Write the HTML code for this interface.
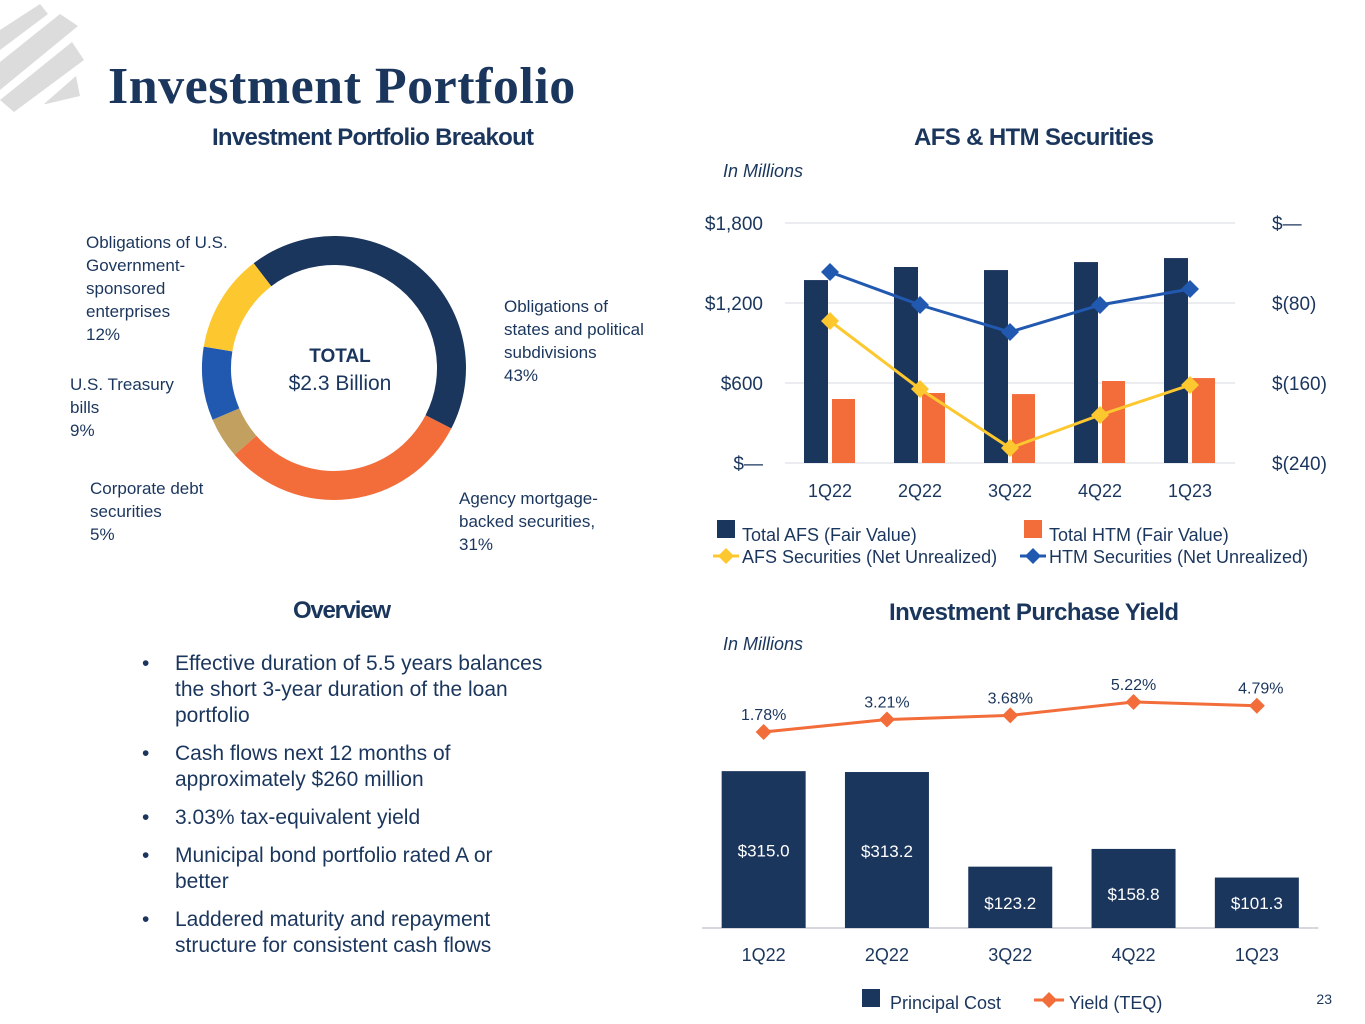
<!DOCTYPE html>
<html><head><meta charset="utf-8"><style>
body{margin:0;width:1365px;height:1024px;background:#fff;overflow:hidden;font-family:"Liberation Sans",sans-serif;}
svg{display:block}
text{fill:#1b365d}
</style></head><body>
<svg id="s" width="1365" height="1024" viewBox="0 0 1365 1024">
<g fill="#dcdcdc">
<polygon points="0,30 40,4 48,14 0,50"/>
<polygon points="0,62 60,14 78,26 0,90"/>
<polygon points="0,100 72,42 84,60 14,112"/>
<polygon points="44,104 76,76 80,96 46,104"/>
</g>
<text x="108" y="103" font-family="Liberation Serif,serif" font-weight="bold" font-size="52" letter-spacing="0.5">Investment Portfolio</text>
<g font-family="Liberation Sans Narrow,Liberation Sans,sans-serif" font-weight="bold" font-size="24" text-anchor="middle">
<text x="373" y="145" textLength="322">Investment Portfolio Breakout</text>
<text x="1034" y="145" textLength="240">AFS &amp; HTM Securities</text>
<text x="342" y="618" textLength="98">Overview</text>
<text x="1034" y="620" textLength="290">Investment Purchase Yield</text>
</g>
<g id="donut"></g>
<text x="340" y="362" text-anchor="middle" font-weight="bold" font-size="19">TOTAL</text>
<text x="340" y="390" text-anchor="middle" font-size="21">$2.3 Billion</text>
<g font-size="17">
<text><tspan x="86" y="248">Obligations of U.S.</tspan><tspan x="86" y="271">Government-</tspan><tspan x="86" y="294">sponsored</tspan><tspan x="86" y="317">enterprises</tspan><tspan x="86" y="340">12%</tspan></text>
<text><tspan x="504" y="312">Obligations of</tspan><tspan x="504" y="335">states and political</tspan><tspan x="504" y="358">subdivisions</tspan><tspan x="504" y="381">43%</tspan></text>
<text><tspan x="70" y="390">U.S. Treasury</tspan><tspan x="70" y="413">bills</tspan><tspan x="70" y="436">9%</tspan></text>
<text><tspan x="90" y="494">Corporate debt</tspan><tspan x="90" y="517">securities</tspan><tspan x="90" y="540">5%</tspan></text>
<text><tspan x="459" y="504">Agency mortgage-</tspan><tspan x="459" y="527">backed securities,</tspan><tspan x="459" y="550">31%</tspan></text>
</g>
<g font-size="21">
<text x="142" y="670">•</text><text x="175" y="670">Effective duration of 5.5 years balances</text>
<text x="175" y="696">the short 3-year duration of the loan</text><text x="175" y="722">portfolio</text>
<text x="142" y="760">•</text><text x="175" y="760">Cash flows next 12 months of</text><text x="175" y="786">approximately $260 million</text>
<text x="142" y="824">•</text><text x="175" y="824">3.03% tax-equivalent yield</text>
<text x="142" y="862">•</text><text x="175" y="862">Municipal bond portfolio rated A or</text><text x="175" y="888">better</text>
<text x="142" y="926">•</text><text x="175" y="926">Laddered maturity and repayment</text><text x="175" y="952">structure for consistent cash flows</text>
</g>
<text x="723" y="177" font-size="18" font-style="italic">In Millions</text>
<text x="723" y="650" font-size="18" font-style="italic">In Millions</text>
<g id="afs"></g>
<g id="yc"></g>
<g font-size="18">
<rect x="717" y="520" width="18" height="18" fill="#1b365d"/><text x="742" y="541">Total AFS (Fair Value)</text>
<rect x="1024" y="520" width="18" height="18" fill="#f26d3a"/><text x="1049" y="541">Total HTM (Fair Value)</text>
<line x1="713" y1="556" x2="739" y2="556" stroke="#fdc82f" stroke-width="3"/><polygon points="726,548 734,556 726,564 718,556" fill="#fdc82f"/><text x="742" y="563">AFS Securities (Net Unrealized)</text>
<line x1="1020" y1="556" x2="1046" y2="556" stroke="#2158b0" stroke-width="3"/><polygon points="1033,548 1041,556 1033,564 1025,556" fill="#2158b0"/><text x="1049" y="563">HTM Securities (Net Unrealized)</text>
</g>
<g font-size="18">
<rect x="862" y="989" width="18" height="18" fill="#1b365d"/><text x="890" y="1009">Principal Cost</text>
<line x1="1034" y1="1000" x2="1064" y2="1000" stroke="#f26d3a" stroke-width="3"/><polygon points="1049,992 1057,1000 1049,1008 1041,1000" fill="#f26d3a"/><text x="1069" y="1009">Yield (TEQ)</text>
</g>
<text x="1332" y="1004" font-size="14" text-anchor="end">23</text>
</svg>
<script>
const NS='http://www.w3.org/2000/svg';
function mk(p,t,a,txt){const e=document.createElementNS(NS,t);for(const k in a)e.setAttribute(k,a[k]);if(txt!==undefined)e.textContent=txt;p.appendChild(e);return e;}
// Donut data
const sliceNames=['states','agency','corporate','treasury','gse'];
const slicePct=[43,31,5,9,12];
const sliceColors=['#1b365d','#f26d3a','#c2a060','#2158b0','#fdc82f'];
// AFS/HTM data
const quarters=['1Q22','2Q22','3Q22','4Q22','1Q23'];
const afsFair=[1372,1470,1447,1507,1537];
const htmFair=[480,525,517,615,637];
const afsUnreal=[-98,-166,-225,-192,-162];
const htmUnreal=[-49,-82,-109,-82,-66];
const leftTicks=['$—','$600','$1,200','$1,800'];
const leftTickVals=[0,600,1200,1800];
const rightTicks=['$(240)','$(160)','$(80)','$—'];
const rightTickVals=[-240,-160,-80,0];
// Yield data
const principal=[315.0,313.2,123.2,158.8,101.3];
const principalLabels=['$315.0','$313.2','$123.2','$158.8','$101.3'];
const yieldPct=[1.78,3.21,3.68,5.22,4.79];
const yieldLabels=['1.78%','3.21%','3.68%','5.22%','4.79%'];

(function(){
 const g=document.getElementById('donut');const cx=334,cy=368,R=132,r=103;
 const total=slicePct.reduce((a,b)=>a+b,0);let a0=-37.5*Math.PI/180;
 slicePct.forEach((v,i)=>{const a1=a0+v/total*2*Math.PI;
  const p=(ang,rad)=>[cx+rad*Math.sin(ang),cy-rad*Math.cos(ang)];
  const [x1,y1]=p(a0,R),[x2,y2]=p(a1,R),[x3,y3]=p(a1,r),[x4,y4]=p(a0,r);const lg=(a1-a0)>Math.PI?1:0;
  const e=mk(g,'path',{d:`M${x1},${y1}A${R},${R} 0 ${lg} 1 ${x2},${y2}L${x3},${y3}A${r},${r} 0 ${lg} 0 ${x4},${y4}Z`,fill:sliceColors[i]});
  
  
  a0=a1;});
})();
(function(){
 const g=document.getElementById('afs');const x0=785,x1=1235,yB=463,yT=223;
 const yL=v=>yB-(v/1800)*(yB-yT);const yR=v=>yT+(v/-240)*(yB-yT);
 const step=(x1-x0)/quarters.length;const cxq=i=>x0+step*(i+0.5);
 leftTickVals.forEach((v,i)=>{const l=mk(g,'line',{x1:x0,x2:x1,y1:yL(v),y2:yL(v),stroke:'#e3e6ea','stroke-width':1.5});
  
  
  const t=mk(g,'text',{x:763,y:yL(v)+7,'text-anchor':'end','font-size':19},leftTicks[i]);
  
  });
 rightTickVals.forEach((v,i)=>{const t=mk(g,'text',{x:1272,y:yR(v)+7,'font-size':19},rightTicks[i]);
  
  });
 quarters.forEach((q,i)=>{const c=cxq(i);
  const b1=mk(g,'rect',{x:c-26,y:yL(afsFair[i]),width:24,height:yB-yL(afsFair[i]),fill:'#1b365d'});
  
  
  const b2=mk(g,'rect',{x:c+2,y:yL(htmFair[i]),width:23,height:yB-yL(htmFair[i]),fill:'#f26d3a'});
  
  
  const t=mk(g,'text',{x:c,y:497,'text-anchor':'middle','font-size':18},q);
  
  });
 [[htmUnreal,'#2158b0','htm'],[afsUnreal,'#fdc82f','afs']].forEach(([arr,col,nm])=>{
  const pl=mk(g,'polyline',{points:arr.map((v,i)=>cxq(i)+','+yR(v)).join(' '),fill:'none',stroke:col,'stroke-width':3});
  
  
  arr.forEach((v,i)=>{const x=cxq(i),y=yR(v);const d=mk(g,'polygon',{points:`${x},${y-9} ${x+9},${y} ${x},${y+9} ${x-9},${y}`,fill:col});
   
   });});
})();
(function(){
 const g=document.getElementById('yc');const x0=702,step=123.3,yB=928;
 const cxq=i=>x0+step*(i+0.5);const yP=v=>yB-v*0.498;const yY=v=>747.5-v*8.72;
 const ax=mk(g,'line',{x1:x0,x2:x0+step*5,y1:yB,y2:yB,stroke:'#c8ccd2','stroke-width':1.5});
 
 
 principal.forEach((v,i)=>{const c=cxq(i);
  const b=mk(g,'rect',{x:c-42,y:yP(v),width:84,height:yB-yP(v),fill:'#1b365d'});
  
  
  const ly=(yB-yP(v))>100?(yP(v)+yB)/2+7:(i==3?yP(v)+51:yB-19);
  const t=mk(g,'text',{x:c,y:ly,'text-anchor':'middle','font-size':17,fill:'#fff',style:'fill:#fff'},principalLabels[i]);
  
  
  const q=mk(g,'text',{x:c,y:961,'text-anchor':'middle','font-size':18},quarters[i]);
  
  });
 const pl=mk(g,'polyline',{points:yieldPct.map((v,i)=>cxq(i)+','+yY(v)).join(' '),fill:'none',stroke:'#f26d3a','stroke-width':3});
 
 
 yieldPct.forEach((v,i)=>{const x=cxq(i),y=yY(v);
  const d=mk(g,'polygon',{points:`${x},${y-8} ${x+8},${y} ${x},${y+8} ${x-8},${y}`,fill:'#f26d3a'});
  
  
  const t=mk(g,'text',{x:x+(i==4?4:0),y:y-12,'text-anchor':'middle','font-size':16},yieldLabels[i]);
  
  });
})();
</script>
</body></html>
